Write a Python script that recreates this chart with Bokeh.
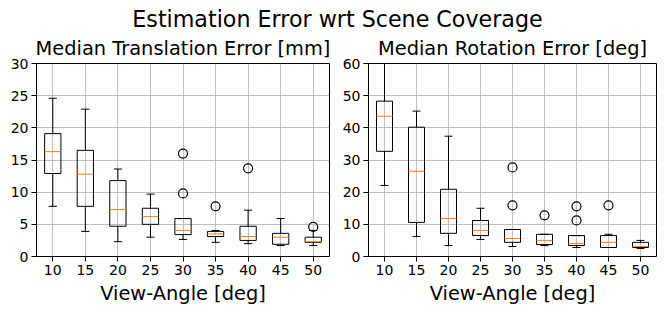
import numpy as np
from bokeh.plotting import figure
from bokeh.layouts import column, row
from bokeh.models import FixedTicker, Range1d, Div
from bokeh.embed import file_html
from bokeh.resources import INLINE

angles = ["10", "15", "20", "25", "30", "35", "40", "45", "50"]

# Median translation error [mm]
trans_lo = [7.8, 3.9, 2.3, 3.0, 2.65, 2.2, 2.0, 1.7, 1.7]
trans_q1 = [12.9, 7.8, 4.7, 5.0, 3.4, 3.1, 2.5, 1.9, 2.2]
trans_med = [16.3, 12.8, 7.3, 6.2, 4.05, 3.5, 3.1, 3.0, 2.3]
trans_q3 = [19.1, 16.5, 11.8, 7.5, 5.9, 3.9, 4.7, 3.6, 3.0]
trans_hi = [24.6, 22.9, 13.6, 9.7, 5.9, 4.05, 7.2, 5.9, 4.05]
trans_out_angle = ["30", "30", "35", "40", "50"]
trans_out_val = [16.0, 9.8, 7.8, 13.7, 4.6]

# Median rotation error [deg]
rot_lo = [22.1, 6.2, 3.4, 5.3, 3.1, 3.4, 2.8, 2.8, 2.5]
rot_q1 = [32.7, 10.6, 7.2, 6.5, 4.4, 3.7, 3.4, 2.8, 2.8]
rot_med = [43.6, 26.5, 11.8, 8.1, 5.6, 5.0, 4.0, 4.4, 3.1]
rot_q3 = [48.3, 40.2, 20.9, 11.2, 8.4, 6.9, 6.5, 6.5, 4.4]
rot_hi = [66.0, 45.2, 37.4, 15.0, 8.4, 6.9, 6.5, 6.9, 5.0]
rot_out_angle = ["30", "30", "35", "40", "40", "45"]
rot_out_val = [27.7, 15.9, 12.8, 15.6, 11.2, 15.9]

FONT = "DejaVu Sans"


def panel(title, lo, q1, med, q3, hi, out_a, out_v, ymax, ystep, width, bl, br):
    pos = np.arange(1, len(angles) + 1)
    p = figure(width=width, height=278, output_backend="svg", toolbar_location=None,
               x_range=Range1d(0.5, len(angles) + 0.5), y_range=Range1d(0, ymax),
               min_border_left=bl, min_border_right=br, min_border_top=32, min_border_bottom=53)
    p.title.text = title
    p.title.align = "center"
    p.title.offset = (bl - br) / 2
    p.title.text_font = FONT
    p.title.text_font_size = "19.4px"
    p.title.text_font_style = "normal"
    p.title.text_color = "black"
    p.title.standoff = 7
    p.outline_line_color = "black"
    p.outline_line_alpha = 1
    p.background_fill_color = "white"
    p.border_fill_color = "white"
    p.xaxis.ticker = FixedTicker(ticks=list(pos))
    p.xaxis.major_label_overrides = {int(i): a for i, a in zip(pos, angles)}
    p.yaxis.ticker = FixedTicker(ticks=list(range(0, ymax + 1, ystep)))
    p.xaxis.axis_label = "View-Angle [deg]"
    p.xaxis.axis_label_text_font = FONT
    p.xaxis.axis_label_text_font_size = "19.4px"
    p.xaxis.axis_label_text_font_style = "normal"
    p.xaxis.axis_label_text_color = "black"
    p.xaxis.axis_label_standoff = 4
    for ax in (p.xaxis, p.yaxis):
        ax.axis_line_color = None
        ax.major_label_text_font = FONT
        ax.major_label_text_font_size = "14px"
        ax.major_label_text_color = "black"
        ax.major_tick_out = 5
        ax.major_tick_in = 0
        ax.minor_tick_out = 0
        ax.minor_tick_in = 0
        ax.major_tick_line_color = "black"
        ax.major_label_standoff = 3
    p.grid.grid_line_color = "#b0b0b0"
    p.grid.grid_line_width = 0.8

    pos_a = {a: i + 1 for i, a in enumerate(angles)}
    # whiskers
    p.segment(x0=pos, y0=q3, x1=pos, y1=hi, line_color="black", line_width=1)
    p.segment(x0=pos, y0=q1, x1=pos, y1=lo, line_color="black", line_width=1)
    # caps
    p.segment(x0=pos - 0.125, y0=hi, x1=pos + 0.125, y1=hi, line_color="black", line_width=1)
    p.segment(x0=pos - 0.125, y0=lo, x1=pos + 0.125, y1=lo, line_color="black", line_width=1)
    # boxes
    p.vbar(x=pos, bottom=q1, top=q3, width=0.5, fill_color=None, line_color="black", line_width=1)
    # medians
    p.segment(x0=pos - 0.25, y0=med, x1=pos + 0.25, y1=med, line_color="#ff7f0e", line_width=1)
    # outliers
    p.scatter(x=[pos_a[a] for a in out_a], y=out_v, marker="circle", size=9,
              fill_color=None, line_color="black", line_width=1.2)
    return p


left = panel("Median Translation Error [mm]", trans_lo, trans_q1, trans_med, trans_q3, trans_hi,
             trans_out_angle, trans_out_val, 30, 5, 339, 36, 10)
right = panel("Median Rotation Error [deg]", rot_lo, rot_q1, rot_med, rot_q3, rot_hi,
              rot_out_angle, rot_out_val, 60, 10, 319, 24, 2)

top = Div(text="Estimation Error wrt Scene Coverage", width=658, height=31,
          styles={"font-family": FONT, "font-size": "22.2px", "text-align": "center",
                  "line-height": "38px", "color": "black", "width": "658px",
                  "text-indent": "17px", "margin": "0", "padding": "0"})

layout = column(top, row(left, right), spacing=0)
open("out.html", "w").write(file_html(layout, INLINE))
